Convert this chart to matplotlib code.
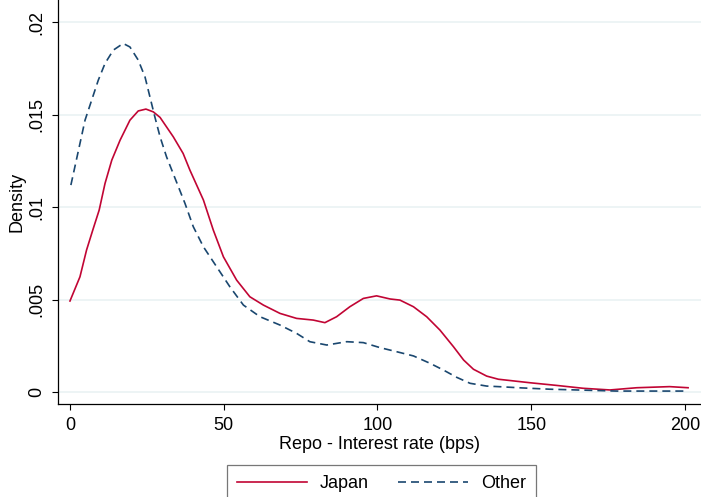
import matplotlib.pyplot as plt

plt.rcParams['font.family'] = ['Liberation Sans', 'DejaVu Sans']

# kernel density estimates
japan_x = [0, 3.25, 5.4, 7.5, 9.5, 11.4, 13.6, 16.3, 19.5, 22.2, 24.7, 27.1, 29.3,
           33.6, 36.8, 39, 43.4, 46.6, 49.9, 54.2, 58.5, 62.9, 68.3, 73.7, 79.1,
           82.9, 86.7, 91, 95.4, 99.7, 104.1, 107.3, 111.7, 116, 120.3, 124.7, 128,
           131.2, 135.5, 139.3, 149.6, 158, 166.9, 175.6, 184.3, 195, 201]
japan_y = [0.00492, 0.00623, 0.00768, 0.0088, 0.00984, 0.01128, 0.01254, 0.01362,
           0.0147, 0.0152, 0.0153, 0.01515, 0.01485, 0.0138, 0.0129, 0.012, 0.01038,
           0.00876, 0.00731, 0.00605, 0.00515, 0.0047, 0.00425, 0.00398, 0.00389,
           0.00375, 0.00407, 0.00461, 0.00506, 0.0052, 0.00503, 0.00497, 0.00461,
           0.00407, 0.00335, 0.00245, 0.00173, 0.00123, 0.00086, 0.00069, 0.0005,
           0.00036, 0.0002, 0.00011, 0.00023, 0.00029, 0.00023]

other_x = [0.3, 1.6, 3.25, 4.9, 7.05, 9.2, 11.4, 14.1, 17.3, 19.5, 22.2, 24.4, 26,
           27.6, 29.3, 31.4, 34.4, 37.4, 40.1, 43.4, 47.7, 52, 56.4, 61.8, 68.3,
           73.7, 78, 83.5, 90, 95.4, 100.8, 106.2, 111.7, 117.1, 121.4, 125.8, 130.1,
           135.5, 139.3, 147, 156.1, 177.8, 200.5]
other_y = [0.01119, 0.01218, 0.01344, 0.0147, 0.01578, 0.01686, 0.01777, 0.01849,
           0.01885, 0.01866, 0.01795, 0.01704, 0.01596, 0.01488, 0.0138, 0.01272,
           0.01146, 0.0102, 0.00894, 0.00785, 0.00677, 0.00569, 0.0047, 0.00407,
           0.00362, 0.00317, 0.00272, 0.00254, 0.00272, 0.00267, 0.0024, 0.00218,
           0.00195, 0.00155, 0.00119, 0.00079, 0.00047, 0.00032, 0.00029, 0.00022,
           0.00015, 0.00005, 0.00005]

x_ticks = [0, 50, 100, 150, 200]
y_ticks = [0, 0.005, 0.01, 0.015, 0.02]
y_tick_labels = ['0', '.005', '.01', '.015', '.02']

fig = plt.figure(figsize=(7.01, 4.97), dpi=100)
ax = fig.add_axes([0.0827, 0.1871, 0.9173, 0.8129])

ax.plot(japan_x, japan_y, color='#c10534', lw=1.2, label='Japan')
ax.plot(other_x, other_y, color='#1a476f', lw=1.2, ls=(0, (4.8, 3)), label='Other')

ax.set_xlim(-3.9, 205.2)
ax.set_ylim(-0.00065, 0.0212)
ax.set_xticks(x_ticks)
ax.set_yticks(y_ticks)
ax.set_yticklabels(y_tick_labels, rotation=90, va='center')
ax.tick_params(labelsize=13, length=4.5, width=0.8, direction='out')
ax.tick_params(axis='x', pad=5)
ax.tick_params(axis='y', pad=4.5)
ax.grid(axis='y', color='#eaf2f3', lw=1.2)
ax.set_axisbelow(True)
for side in ['top', 'right']:
    ax.spines[side].set_visible(False)
ax.spines['left'].set_linewidth(0.9)
ax.spines['bottom'].set_linewidth(0.9)

ax.set_xlabel('Repo - Interest rate (bps)', fontsize=13, labelpad=1)
ax.set_ylabel('Density', fontsize=13, labelpad=2)

leg = fig.legend(loc='upper left', bbox_to_anchor=(227 / 701, 32 / 497), ncol=2,
                 fontsize=13, frameon=True, fancybox=False, handlelength=3.9,
                 handletextpad=0.7, columnspacing=1.6, borderpad=0.55,
                 borderaxespad=0, edgecolor='#555555')
leg.get_frame().set_linewidth(0.9)

fig.savefig('out.png', dpi=100)
